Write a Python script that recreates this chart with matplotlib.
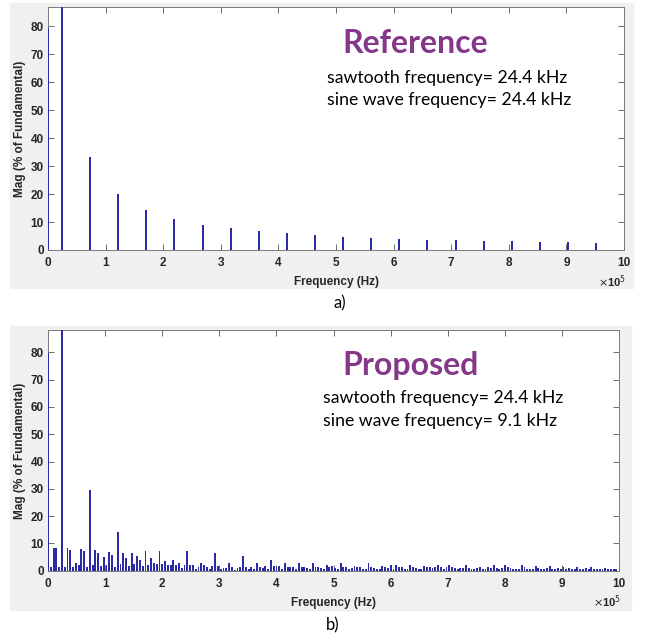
import numpy as np
import matplotlib.pyplot as plt
from matplotlib.patches import Rectangle

# ---- data ----
# a) reference: odd harmonics of 24.4 kHz, in % of fundamental
ref_freq_khz = [0, 24.4, 73.2, 122.0, 170.8, 219.6, 268.4, 317.2, 366.0, 414.8, 463.6,
                512.4, 561.2, 610.0, 658.8, 707.6, 756.4, 805.2, 854.0, 902.8, 951.6]
ref_mag = [79.2, 100.0, 33.3, 20.0, 14.3, 11.1, 9.0, 7.8, 6.8, 6.0, 5.3,
           4.8, 4.4, 4.0, 3.7, 3.5, 3.3, 3.1, 2.9, 2.7, 2.6]

# b) proposed: spectrum bins spaced 4.88 kHz (bin 0 .. 204)
bin_khz = 4.88
prop_mag = [
    79.7,
    1.5, 8.2, 8.2, 1.2, 100.0, 1.5, 8.3, 7.7, 1.5, 2.7,
    2.0, 8.0, 7.3, 1.2, 29.5, 2.0, 7.6, 6.5, 1.7, 5.0,
    2.2, 6.8, 5.7, 1.5, 14.2, 2.4, 6.5, 4.7, 1.8, 6.6,
    2.5, 5.5, 3.9, 1.6, 7.1, 2.0, 4.7, 3.0, 2.3, 7.4,
    2.4, 3.5, 2.0, 2.0, 3.9, 2.2, 2.8, 1.0, 2.0, 7.3,
    2.2, 2.0, 0.5, 1.5, 3.0, 2.0, 1.2, 0.8, 1.8, 6.6,
    1.8, 0.5, 1.0, 1.0, 2.8, 1.2, 0.3, 1.0, 1.2, 5.4,
    1.5, 0.7, 1.5, 0.5, 2.7, 1.2, 1.0, 1.7, 0.5, 3.9,
    1.7, 1.5, 1.7, 0.5, 2.9, 1.2, 1.2, 1.5, 0.5, 2.7,
    1.5, 1.5, 1.0, 0.5, 2.9, 1.2, 1.2, 1.0, 0.7, 2.0,
    1.5, 1.7, 1.0, 0.7, 2.9, 1.2, 1.2, 0.5, 1.0, 1.7,
    1.5, 1.2, 0.5, 0.7, 2.7, 1.2, 1.0, 0.5, 0.7, 1.7,
    1.2, 1.0, 2.0, 0.5, 2.2, 1.2, 1.2, 0.5, 0.7, 2.0,
    1.2, 1.0, 0.5, 0.7, 1.7, 1.2, 1.2, 1.0, 1.2, 2.2,
    1.2, 0.7, 1.2, 2.0, 1.2, 1.0, 0.5, 1.0, 1.0, 2.2,
    1.0, 0.5, 0.7, 1.0, 1.2, 0.5, 0.7, 1.5, 1.0, 2.2,
    1.0, 0.7, 1.0, 2.0, 1.2, 1.0, 0.7, 0.5, 0.7, 2.0,
    1.2, 0.7, 0.5, 0.7, 1.7, 1.0, 0.5, 0.7, 1.0, 1.8,
    0.7, 0.5, 1.0, 0.7, 1.5, 0.7, 1.0, 0.5, 0.7, 1.2,
    0.7, 0.5, 1.0, 0.5, 1.3, 0.7, 0.5, 0.7, 0.5, 1.0,
    0.5, 0.7, 0.5, 0.5,
]

x_ticks = list(range(0, 11))
y_ticks = list(range(0, 81, 10))

bar_col = '#2B2BA5'
purple = '#85388A'
txt_col = '#262626'
W, H = 646, 637


def fx(px):
    return px / W


def fy(py):
    return 1 - py / H


def style_axes(ax, ytop):
    ax.set_xlim(0, 1e6)
    ax.set_ylim(0, ytop)
    ax.set_xticks([t * 1e5 for t in x_ticks])
    ax.set_xticklabels([str(t) for t in x_ticks])
    ax.set_yticks(y_ticks)
    ax.tick_params(direction='in', length=4, width=0.6, colors='#555555',
                   top=True, right=True, labelsize=8.5)
    ax.tick_params(axis='x', pad=5)
    ax.tick_params(axis='y', pad=3)
    for lab in ax.get_xticklabels() + ax.get_yticklabels():
        lab.set_fontweight('bold')
        lab.set_color(txt_col)
        lab.set_family('Liberation Sans')
    for s in ax.spines.values():
        s.set_color('#7a7a7a')
        s.set_linewidth(0.7)
    ax.set_xlabel('Frequency (Hz)', fontsize=8.5, fontweight='bold',
                  family='Liberation Sans', color=txt_col, labelpad=5)
    ax.set_ylabel('Mag (% of Fundamental)', fontsize=8.5, fontweight='bold',
                  family='Liberation Sans', color=txt_col, labelpad=3)
    ax.text(1.003, -0.13, r'$\times$10$^5$', transform=ax.transAxes, ha='right',
            va='center', fontsize=8, fontweight='bold', family='Liberation Sans',
            color=txt_col)


def label(x, y, s, **kw):
    fig.text(fx(x), fy(y), s, family='Lato', ha='left', va='baseline', **kw)


fig = plt.figure(figsize=(6.46, 6.37), dpi=100)
fig.patch.set_facecolor('white')

# gray panels behind each plot
fig.patches.append(Rectangle((fx(10), fy(288)), fx(623), 285 / H,
                             transform=fig.transFigure, color='#F0F0F0', zorder=-5))
fig.patches.append(Rectangle((fx(10), fy(610)), fx(621), 284 / H,
                             transform=fig.transFigure, color='#F0F0F0', zorder=-5))

# a) reference
ax1 = fig.add_axes([fx(48), fy(250), fx(576), 243 / H])
ax1.bar(np.array(ref_freq_khz) * 1e3, ref_mag, width=3500, color=bar_col,
        zorder=3, antialiased=False)
style_axes(ax1, 86.8)
label(342, 53, 'Reference', fontsize=23, fontweight='bold', color=purple)
label(327, 83, 'sawtooth frequency= 24.4 kHz', fontsize=12.7, color='black')
label(327, 105, 'sine wave frequency= 24.4 kHz', fontsize=12.7, color='black')

# b) proposed
ax2 = fig.add_axes([fx(48), fy(570.7), fx(571), 240.7 / H])
prop_freq = np.arange(len(prop_mag)) * bin_khz * 1e3
ax2.bar(prop_freq, prop_mag, width=3300, color=bar_col, zorder=3, antialiased=False)
style_axes(ax2, 88.2)
label(342, 375, 'Proposed', fontsize=23, fontweight='bold', color=purple)
label(323, 403, 'sawtooth frequency= 24.4 kHz', fontsize=12.7, color='black')
label(323, 426, 'sine wave frequency= 9.1 kHz', fontsize=12.7, color='black')

fig.text(fx(340), fy(303), 'a)', fontsize=12, family='Lato', ha='center', va='center')
fig.text(fx(333), fy(625), 'b)', fontsize=12, family='Lato', ha='center', va='center')

fig.savefig('out.png', dpi=100, facecolor='white')
